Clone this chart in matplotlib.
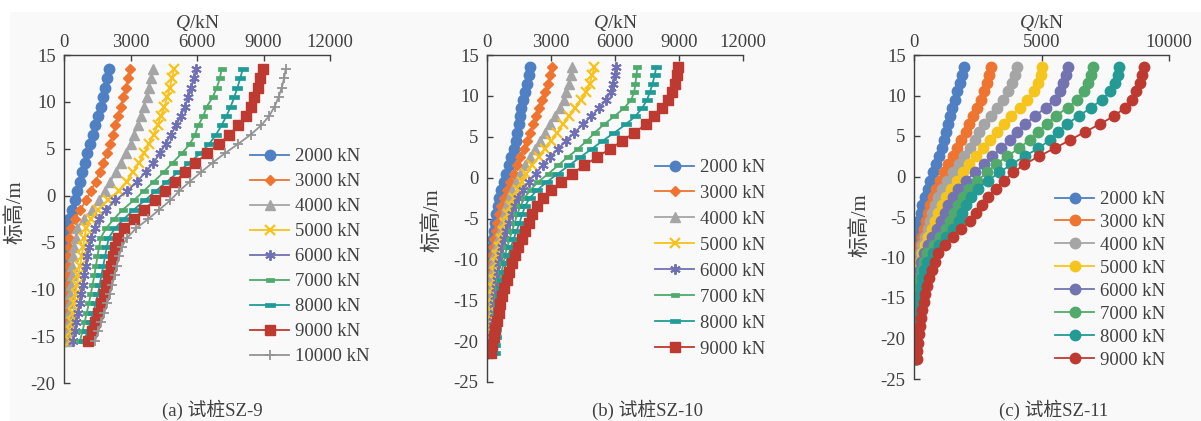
import matplotlib
matplotlib.use("Agg")
import matplotlib.pyplot as plt
from matplotlib.patches import Rectangle
from matplotlib.path import Path

plt.rcParams["font.family"] = ["Liberation Serif", "Noto Sans CJK SC"]
plt.rcParams["axes.unicode_minus"] = False
plt.rcParams["mathtext.fontset"] = "custom"
plt.rcParams["mathtext.it"] = "Liberation Serif:italic"
plt.rcParams["mathtext.rm"] = "Liberation Serif"

# ── data: elevation (m) and axial force Q (kN) per load step ────────────────
elev_a = [13.5, 12.5, 11.5, 10.5, 9.5, 8.5, 7.5, 6.5, 5.5, 4.5, 3.5, 2.5, 1.5, 0.5,
          -0.5, -1.5, -2.5, -3.5, -4.5, -5.5, -6.5, -7.5, -8.5, -9.5, -10.5,
          -11.5, -12.5, -13.5, -14.5, -15.5]
elev_b = elev_a + [-16.5, -17.5, -18.5, -19.5, -20.5, -21.5]
elev_c = elev_b + [-22.5]

loads_a = ["2000 kN", "3000 kN", "4000 kN", "5000 kN", "6000 kN",
           "7000 kN", "8000 kN", "9000 kN", "10000 kN"]
loads_bc = loads_a[:8]

q_a = [
    [2030, 1950, 1860, 1760, 1650, 1530, 1410, 1290, 1160, 1040, 930, 820, 710, 600,
     490, 370, 220, 110, 60, 40, 35, 30, 30, 25, 25, 25, 20, 20, 20, 20],
    [2980, 2890, 2790, 2680, 2560, 2440, 2320, 2200, 2070, 1930, 1780, 1610, 1430, 1220,
     990, 740, 480, 300, 240, 210, 190, 170, 155, 140, 130, 120, 110, 100, 95, 90],
    [4000, 3920, 3830, 3730, 3620, 3480, 3330, 3170, 3000, 2800, 2580, 2340, 2090, 1830,
     1570, 1270, 880, 600, 520, 470, 420, 380, 340, 310, 280, 255, 235, 215, 195, 180],
    [4960, 4870, 4770, 4660, 4530, 4380, 4220, 4040, 3830, 3620, 3380, 3110, 2820, 2460,
     1980, 1520, 1200, 1000, 920, 860, 790, 720, 650, 590, 530, 470, 420, 370, 320, 270],
    [5950, 5850, 5730, 5600, 5450, 5270, 5060, 4830, 4580, 4330, 4030, 3680, 3300, 2860,
     2320, 1900, 1590, 1380, 1230, 1120, 1040, 970, 900, 840, 770, 700, 630, 560, 490, 420],
    [7110, 7030, 6890, 6710, 6440, 6290, 6060, 5910, 5680, 5310, 4900, 4500, 4050, 3600,
     3150, 2650, 2250, 1900, 1660, 1580, 1510, 1440, 1370, 1290, 1210, 1120, 1030, 930, 830, 720],
    [8060, 7950, 7820, 7680, 7520, 7330, 7110, 6860, 6550, 6150, 5650, 5150, 4650, 4150,
     3650, 3150, 2700, 2300, 2020, 1930, 1850, 1770, 1690, 1610, 1530, 1430, 1320, 1200, 1060, 900],
    [8960, 8860, 8730, 8590, 8440, 8200, 7870, 7460, 6980, 6460, 5930, 5450, 5000, 4550,
     4100, 3600, 3150, 2720, 2450, 2300, 2200, 2100, 2000, 1900, 1790, 1670, 1540, 1400, 1250, 1100],
    [10000, 9930, 9820, 9680, 9500, 9260, 8900, 8420, 7850, 7250, 6700, 6180, 5680, 5200,
     4800, 4300, 3800, 3250, 2850, 2600, 2480, 2380, 2280, 2180, 2070, 1950, 1820, 1690, 1550, 1400],
]

q_b = [
    [2020, 1950, 1860, 1760, 1670, 1600, 1540, 1480, 1420, 1350, 1270, 1140, 1020, 900,
     780, 670, 580, 520, 440, 380, 320, 270, 230, 190, 160, 130, 110, 90, 75, 60,
     50, 40, 30, 20, 15, 10],
    [3030, 2950, 2850, 2730, 2600, 2460, 2310, 2160, 2010, 1870, 1720, 1570, 1410, 1250,
     1080, 920, 780, 660, 560, 480, 410, 350, 300, 250, 210, 180, 160, 140, 120, 100,
     90, 80, 70, 60, 55, 50],
    [4000, 3920, 3830, 3720, 3590, 3420, 3200, 2950, 2700, 2470, 2240, 2000, 1760, 1530,
     1350, 1170, 1030, 910, 810, 720, 620, 520, 430, 350, 280, 240, 210, 180, 160, 140,
     120, 110, 100, 90, 80, 70],
    [5030, 4930, 4810, 4640, 4410, 4140, 3850, 3560, 3300, 3020, 2720, 2420, 2120, 1850,
     1650, 1440, 1260, 1110, 980, 860, 760, 660, 570, 490, 420, 370, 330, 290, 260, 240,
     220, 200, 180, 170, 150, 140],
    [6050, 5990, 5900, 5790, 5580, 5250, 4880, 4490, 4100, 3700, 3320, 2950, 2610, 2280,
     1950, 1680, 1470, 1300, 1150, 1010, 900, 800, 710, 640, 580, 520, 470, 420, 380, 340,
     310, 290, 270, 250, 230, 220],
    [7050, 7000, 6960, 6900, 6760, 6420, 5970, 5480, 5050, 4680, 4250, 3780, 3330, 2890,
     2400, 2040, 1760, 1560, 1420, 1300, 1180, 1060, 950, 850, 760, 690, 620, 570, 520, 470,
     440, 410, 390, 370, 350, 330],
    [7930, 7860, 7760, 7640, 7500, 7270, 6950, 6500, 5970, 5420, 4900, 4370, 3850, 3330,
     2820, 2360, 2000, 1780, 1650, 1530, 1390, 1250, 1120, 1000, 880, 800, 720, 660, 600, 550,
     510, 470, 440, 410, 390, 375],
    [8970, 8900, 8800, 8660, 8500, 8220, 7830, 7450, 6900, 6350, 5750, 5150, 4560, 4000,
     3480, 3000, 2620, 2350, 2130, 1950, 1790, 1620, 1460, 1310, 1170, 1050, 930, 820, 710, 620,
     540, 460, 390, 320, 250, 190],
]

q_c = [
    [1970, 1900, 1810, 1700, 1590, 1480, 1400, 1320, 1250, 1180, 1090, 990, 880, 760,
     640, 530, 420, 330, 270, 210, 160, 120, 80, 50, 30, 20, 15, 10, 10, 10,
     5, 5, 5, 0, 0, 0, 0],
    [3020, 2950, 2850, 2730, 2610, 2460, 2300, 2150, 2020, 1860, 1700, 1530, 1350, 1170,
     1010, 870, 730, 620, 530, 460, 380, 300, 220, 150, 100, 70, 50, 40, 30, 30,
     20, 20, 20, 10, 10, 10, 10],
    [4020, 3950, 3850, 3700, 3480, 3240, 3000, 2760, 2560, 2380, 2180, 1980, 1780, 1540,
     1300, 1110, 950, 820, 720, 640, 530, 420, 310, 220, 160, 120, 90, 70, 60, 50,
     40, 35, 30, 25, 20, 20, 20],
    [5030, 4970, 4860, 4700, 4440, 4140, 3820, 3510, 3260, 2980, 2700, 2420, 2160, 1940,
     1680, 1440, 1250, 1090, 950, 830, 690, 550, 420, 300, 220, 170, 130, 110, 90, 80,
     70, 60, 50, 45, 40, 35, 30],
    [6020, 5960, 5860, 5720, 5520, 5160, 4760, 4370, 4050, 3770, 3420, 3060, 2730, 2400,
     2020, 1740, 1520, 1340, 1200, 1060, 890, 720, 550, 400, 290, 230, 180, 150, 130, 110,
     90, 80, 70, 60, 50, 45, 40],
    [7000, 6940, 6840, 6680, 6400, 6020, 5570, 5200, 4870, 4530, 4120, 3660, 3200, 2870,
     2480, 2150, 1920, 1710, 1560, 1420, 1240, 1020, 800, 520, 380, 300, 240, 200, 170, 150,
     130, 110, 100, 90, 80, 70, 60],
    [8050, 7990, 7880, 7700, 7370, 6950, 6470, 6000, 5650, 5330, 4880, 4340, 3820, 3350,
     2900, 2520, 2240, 2040, 1900, 1760, 1520, 1250, 980, 730, 520, 400, 320, 260, 220, 190,
     160, 140, 120, 110, 100, 90, 80],
    [9030, 8950, 8850, 8720, 8560, 8280, 7860, 7310, 6700, 6120, 5520, 4900, 4330, 3900,
     3540, 3200, 2900, 2650, 2440, 2180, 1860, 1520, 1200, 960, 820, 700, 590, 510, 440, 380,
     330, 280, 230, 190, 150, 120, 100],
]

# ── styles ───────────────────────────────────────────────────────────────────
bar_s = Path([(-1, -0.42), (1, -0.42), (1, 0.42), (-1, 0.42), (-1, -0.42)])
colors_ab = ["#4E80C3", "#EE7430", "#A5A5A5", "#F8C21A", "#7070B6",
             "#4FAA6C", "#1F9C97", "#BE3A30", "#949494"]
marker_ab = [("o", 7.5, 1), ("D", 5.5, 1), ("^", 7.5, 1), ("x", 7, 1.6), ((6, 2, 0), 7.5, 1.4),
             (bar_s, 5.5, 0.5), (bar_s, 7, 0.5), ("s", 7.5, 1), ("+", 7.5, 1.3)]
colors_c = ["#4E80C3", "#EE7430", "#A5A5A5", "#F5C51E", "#7473B2",
            "#51AA6C", "#239A93", "#BE3A30"]

AX_COL = "#404040"
BG = "#F9F9F9"

W, H = 1201, 421
fig = plt.figure(figsize=(W / 100, H / 100), dpi=100)
fig.patches.append(Rectangle((10 / W, 0), 1, (H - 12) / H, transform=fig.transFigure,
                             facecolor=BG, edgecolor="none", zorder=-10))


def px_box(left, top, right, bottom):
    return [left / W, 1 - bottom / H, (right - left) / W, (bottom - top) / H]


def style_axes(ax, xmax, xstep, ymin, ylab_xy):
    ax.set_facecolor("none")
    ax.set_xlim(0, xmax)
    ax.set_ylim(ymin, 15)
    ax.set_xticks(range(0, xmax + 1, xstep))
    ax.set_yticks(range(ymin, 16, 5))
    ax.xaxis.tick_top()
    ax.xaxis.set_label_position("top")
    for s in ["bottom", "right"]:
        ax.spines[s].set_visible(False)
    for s in ["top", "left"]:
        ax.spines[s].set_color(AX_COL)
        ax.spines[s].set_linewidth(1.0)
    ax.tick_params(direction="in", length=4, width=1, color=AX_COL,
                   labelcolor=AX_COL, labelsize=13.5)
    ax.tick_params(axis="x", pad=3)
    ax.tick_params(axis="y", pad=6)
    ax.set_xlabel(r"$\mathit{Q}$/kN", fontsize=14, color=AX_COL, labelpad=4)
    ax.set_ylabel("标高/m", fontsize=15, color=AX_COL)
    ax.yaxis.set_label_coords(*ylab_xy)


def add_legend(ax, x_px, y_px, spacing):
    ax.legend(loc="upper left", bbox_to_anchor=(x_px / W, 1 - y_px / H),
              bbox_transform=fig.transFigure, frameon=False, fontsize=13.5,
              handlelength=2.1, handletextpad=0.3, labelspacing=spacing,
              borderpad=0, borderaxespad=0, labelcolor=AX_COL)


# (a) SZ-9
ax_a = fig.add_axes(px_box(64, 55, 330, 383))
for vals, lab, col, (mk, ms, mew) in zip(q_a, loads_a, colors_ab, marker_ab):
    ax_a.plot(vals, elev_a, color=col, lw=1.3, marker=mk, ms=ms, mew=mew,
              mec=col, mfc=col, label=lab)
style_axes(ax_a, 12000, 3000, -20, (-0.143, 0.52))
add_legend(ax_a, 250, 148, 0.42)

# (b) SZ-10
ax_b = fig.add_axes(px_box(487, 55, 743, 382))
for vals, lab, col, (mk, ms, mew) in zip(q_b, loads_bc, colors_ab, marker_ab):
    ax_b.plot(vals, elev_b, color=col, lw=1.3, marker=mk, ms=ms, mew=mew,
              mec=col, mfc=col, label=lab)
style_axes(ax_b, 12000, 3000, -25, (-0.172, 0.495))
add_legend(ax_b, 655, 159, 0.47)

# (c) SZ-11
ax_c = fig.add_axes(px_box(914, 55, 1169, 379))
for vals, lab, col in zip(q_c, loads_bc, colors_c):
    ax_c.plot(vals, elev_c, color=col, lw=1.3, marker="o", ms=7.5,
              mec=col, mfc=col, label=lab)
style_axes(ax_c, 10000, 5000, -25, (-0.169, 0.475))
add_legend(ax_c, 1055, 191, 0.31)

# captions
for x_px, txt in [(212, "(a) 试桩SZ-9"), (647, "(b) 试桩SZ-10"), (1054, "(c) 试桩SZ-11")]:
    fig.text(x_px / W, 1 - 410 / H, txt, ha="center", va="center",
             fontsize=13.5, color=AX_COL)

fig.savefig("out.png", dpi=100)
